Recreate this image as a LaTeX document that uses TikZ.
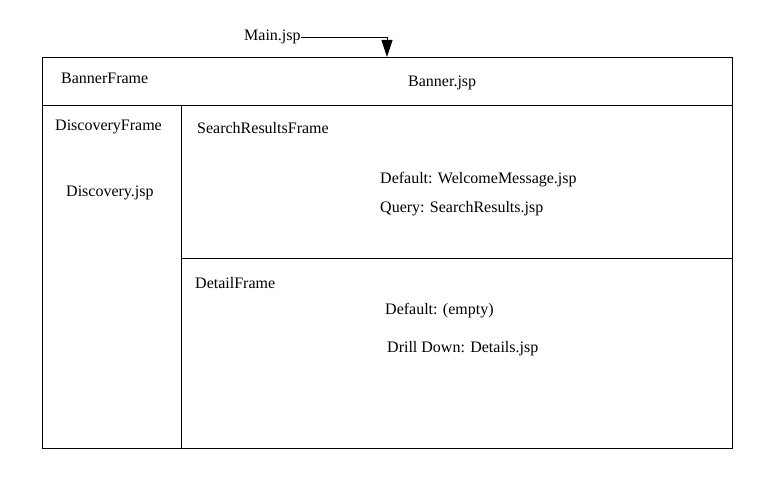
\documentclass[tikz,border=0pt]{standalone}
\usepackage{fontspec}
\setmainfont{Liberation Serif}
\usetikzlibrary{arrows.meta}
\begin{document}
\begin{tikzpicture}[x=1pt,y=-1pt,
  lbl/.style={anchor=west,inner sep=0pt,font=\fontsize{16}{18}\selectfont},
  frameline/.style={draw=black,line width=0.9pt},
  conn/.style={draw=black,line width=0.9pt,-{Triangle[width=11pt,length=17pt]}}]
\useasboundingbox (0,0) rectangle (784,478);
% frames
\coordinate (tl) at (42,57);
\coordinate (br) at (732,448);
\draw[frameline] (tl) rectangle (br);
\draw[frameline] (42,105) -- (732,105);
\draw[frameline] (181,105) -- (181,448);
\draw[frameline] (181,258) -- (732,258);
% labels
\node[lbl] (main) at (244,37) {Main.jsp};
\node[lbl] (bannerframe) at (61,78) {BannerFrame};
\node[lbl] (bannerjsp) at (408,83) {Banner.jsp};
\node[lbl] (discframe) at (55,127) {DiscoveryFrame};
\node[lbl] (discjsp) at (66,193) {Discovery.jsp};
\node[lbl] (srframe) at (197,128) {SearchResultsFrame};
\node[lbl] (srdef) at (380,180) {Default: WelcomeMessage.jsp};
\node[lbl] (srquery) at (380,209) {Query: SearchResults.jsp};
\node[lbl] (detframe) at (195,283) {DetailFrame};
\node[lbl] (detdef) at (385,311) {Default: (empty)};
\node[lbl] (detdrill) at (387,349) {Drill Down: Details.jsp};
% connector
\coordinate (tip) at (387,57);
\draw[conn] (main.east) -| (tip);
\end{tikzpicture}
\end{document}
